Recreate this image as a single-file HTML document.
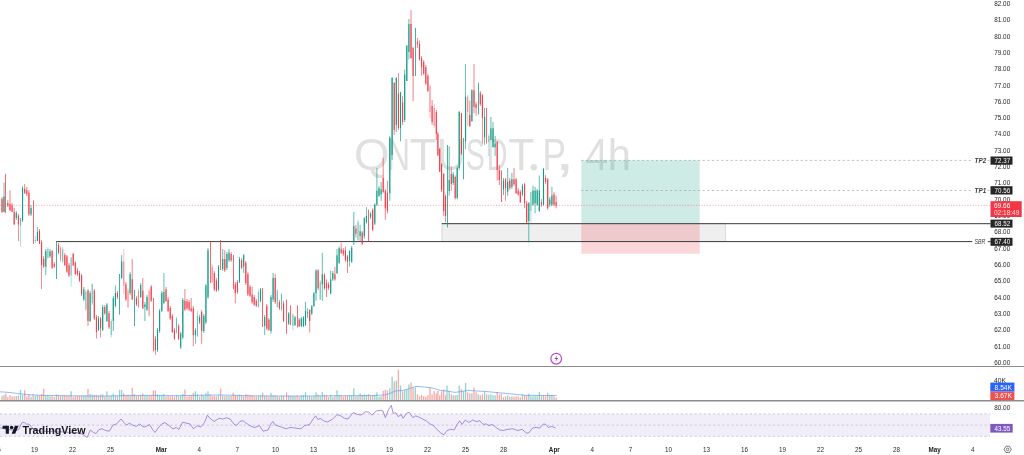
<!DOCTYPE html>
<html><head><meta charset="utf-8"><title>QNTUSDT.P 4h</title>
<style>
html,body{margin:0;padding:0;background:#fff;}
body{width:1024px;height:455px;overflow:hidden;font-family:"Liberation Sans",sans-serif;}
svg{display:block;will-change:transform;transform:translateZ(0);-webkit-font-smoothing:antialiased;}
text{font-family:"Liberation Sans",sans-serif;}
.ax{font-size:6.7px;fill:#262626;}
.tm{font-size:6.3px;fill:#2c2c2c;text-anchor:middle;}
.tb{font-size:6.3px;fill:#222;text-anchor:middle;font-weight:bold;}
.lb{font-size:6.5px;fill:#fff;}
.it{font-size:6.3px;fill:#383838;font-style:italic;font-weight:bold;}
</style></head><body>
<svg width="1024" height="455" viewBox="0 0 1024 455">
<rect width="1024" height="455" fill="#fff"/>
<g id="watermark" fill="#e0e0e0" stroke="#fff" stroke-width="0.5" paint-order="stroke" font-size="43.9">
<text transform="translate(353.94,170.4) scale(1.041,1)">Q</text><text transform="translate(386.89,170.4) scale(0.726,1)">N</text><text transform="translate(409.82,170.4) scale(0.995,1)">T</text><text transform="translate(436.94,170.4) scale(0.903,1)">U</text><text transform="translate(465.71,170.4) scale(0.649,1)">S</text><text transform="translate(486.65,170.4) scale(0.654,1)">D</text><text transform="translate(508.24,170.4) scale(0.971,1)">T</text><text transform="translate(542.42,170.4) scale(0.800,1)">P</text><text transform="translate(585.57,170.4) scale(0.927,1)">4</text><text transform="translate(607.81,170.4) scale(0.950,1)">h</text><text transform="translate(554.80,170.4) scale(1.648,1.25)">,</text><circle cx="533.8" cy="167.3" r="3.2" stroke="none"/></g>
<g id="rsi-band"><rect x="0" y="413.9" width="990" height="22.4" fill="#f1eefa"/><path d="M0 413.9H990M0 425.1H990M0 436.3H990" stroke="#b9b9c4" stroke-width="0.7" stroke-dasharray="2.2 2.4" fill="none"/></g>
<g id="boxes"><rect x="441.9" y="223.6" width="283.6" height="18.1" fill="#808080" fill-opacity="0.13" stroke="#9a9a9a" stroke-opacity="0.5" stroke-width="0.6"/><rect x="581.3" y="160.3" width="118.4" height="63.4" fill="#089981" fill-opacity="0.2"/><rect x="581.3" y="223.7" width="118.4" height="30" fill="#F23645" fill-opacity="0.2"/></g>
<g id="lines" fill="none"><path d="M581.3 160.4H990.5" stroke="#a4a4a4" stroke-width="0.7" stroke-dasharray="2.1 2.567"/><path d="M581.3 190.5H990.5" stroke="#a4a4a4" stroke-width="0.7" stroke-dasharray="2.1 2.567"/><path d="M0 205.3H990" stroke="#f4727c" stroke-width="0.6" stroke-dasharray="1.2 1.54"/><path d="M441.9 223.7H990.5" stroke="#3c3c3c" stroke-width="1"/><path d="M56.2 241.6H990.5" stroke="#3c3c3c" stroke-width="1"/></g>
<g id="candles">
<path d="M2.0 197.0V213.0" stroke="#F23645" stroke-width="0.8" opacity="0.8"/><rect x="1.45" y="199.0" width="1.1" height="13.0" fill="#F23645" opacity="0.95"/>
<path d="M4.0 182.7V212.0" stroke="#089981" stroke-width="0.8" opacity="0.8"/><rect x="3.45" y="196.6" width="1.1" height="15.2" fill="#089981" opacity="0.95"/>
<path d="M5.5 173.9V213.0" stroke="#F23645" stroke-width="0.9" opacity="0.85"/>
<path d="M7.8 200.0V207.0" stroke="#F23645" stroke-width="0.8" opacity="0.8"/><rect x="7.25" y="203.0" width="1.1" height="2.5" fill="#F23645" opacity="0.95"/>
<path d="M10.0 190.3V210.5" stroke="#F23645" stroke-width="0.8" opacity="0.8"/><rect x="9.45" y="204.0" width="1.1" height="6.5" fill="#F23645" opacity="0.95"/>
<path d="M12.1 203.0V212.0" stroke="#F23645" stroke-width="0.8" opacity="0.8"/><rect x="11.55" y="205.5" width="1.1" height="6.3" fill="#F23645" opacity="0.95"/>
<path d="M14.2 208.0V225.0" stroke="#F23645" stroke-width="0.8" opacity="0.8"/><rect x="13.65" y="211.8" width="1.1" height="12.6" fill="#F23645" opacity="0.95"/>
<path d="M16.3 211.0V220.0" stroke="#089981" stroke-width="0.8" opacity="0.8"/><rect x="15.75" y="213.0" width="1.1" height="5.0" fill="#089981" opacity="0.95"/>
<path d="M18.4 214.0V241.0" stroke="#F23645" stroke-width="0.8" opacity="0.8"/><rect x="17.85" y="215.6" width="1.1" height="8.8" fill="#F23645" opacity="0.95"/>
<path d="M20.5 218.0V246.4" stroke="#089981" stroke-width="0.8" opacity="0.4"/><rect x="19.95" y="218.0" width="1.1" height="7.7" fill="#089981" opacity="0.45"/>
<path d="M22.6 186.0V222.0" stroke="#089981" stroke-width="0.8" opacity="0.8"/><rect x="22.05" y="187.8" width="1.1" height="32.8" fill="#089981" opacity="0.95"/>
<path d="M24.7 184.0V194.0" stroke="#F23645" stroke-width="0.8" opacity="0.8"/><rect x="24.15" y="189.0" width="1.1" height="3.8" fill="#F23645" opacity="0.95"/>
<path d="M26.8 187.0V196.0" stroke="#F23645" stroke-width="0.8" opacity="0.8"/><rect x="26.25" y="190.3" width="1.1" height="3.8" fill="#F23645" opacity="0.95"/>
<path d="M28.9 190.0V216.0" stroke="#F23645" stroke-width="0.8" opacity="0.8"/><rect x="28.35" y="192.8" width="1.1" height="21.5" fill="#F23645" opacity="0.95"/>
<path d="M31.0 205.0V216.0" stroke="#089981" stroke-width="0.8" opacity="0.8"/><rect x="30.45" y="208.0" width="1.1" height="6.3" fill="#089981" opacity="0.95"/>
<path d="M33.5 200.4V243.9" stroke="#F23645" stroke-width="0.9" opacity="0.85"/>
<path d="M35.3 236.0V243.0" stroke="#089981" stroke-width="0.8" opacity="0.4"/><rect x="34.75" y="240.0" width="1.1" height="1.0" fill="#089981" opacity="0.45"/>
<path d="M37.4 227.0V241.0" stroke="#089981" stroke-width="0.8" opacity="0.8"/><rect x="36.85" y="232.0" width="1.1" height="9.0" fill="#089981" opacity="0.95"/>
<path d="M39.5 229.0V244.0" stroke="#F23645" stroke-width="0.8" opacity="0.8"/><rect x="38.95" y="231.0" width="1.1" height="12.4" fill="#F23645" opacity="0.95"/>
<path d="M41.6 240.0V289.0" stroke="#F23645" stroke-width="0.8" opacity="0.8"/><rect x="41.05" y="242.0" width="1.1" height="23.0" fill="#F23645" opacity="0.95"/>
<path d="M43.7 256.0V268.0" stroke="#F23645" stroke-width="0.8" opacity="0.8"/><rect x="43.15" y="259.0" width="1.1" height="7.5" fill="#F23645" opacity="0.95"/>
<path d="M45.8 249.0V275.0" stroke="#089981" stroke-width="0.8" opacity="0.8"/><rect x="45.25" y="251.0" width="1.1" height="15.5" fill="#089981" opacity="0.95"/>
<path d="M47.9 247.0V259.0" stroke="#089981" stroke-width="0.8" opacity="0.4"/><rect x="47.35" y="249.0" width="1.1" height="8.7" fill="#089981" opacity="0.45"/>
<path d="M50.0 249.0V258.0" stroke="#089981" stroke-width="0.8" opacity="0.8"/><rect x="49.45" y="251.4" width="1.1" height="5.0" fill="#089981" opacity="0.95"/>
<path d="M52.1 250.0V269.0" stroke="#F23645" stroke-width="0.8" opacity="0.8"/><rect x="51.55" y="251.0" width="1.1" height="16.8" fill="#F23645" opacity="0.95"/>
<path d="M54.3 262.0V268.0" stroke="#F23645" stroke-width="0.8" opacity="0.8"/><rect x="53.75" y="264.0" width="1.1" height="2.5" fill="#F23645" opacity="0.95"/>
<path d="M56.5 242.0V279.0" stroke="#089981" stroke-width="0.9" opacity="0.85"/>
<path d="M58.5 243.0V254.0" stroke="#F23645" stroke-width="0.8" opacity="0.8"/><rect x="57.95" y="245.0" width="1.1" height="7.6" fill="#F23645" opacity="0.95"/>
<path d="M60.6 246.0V262.0" stroke="#F23645" stroke-width="0.8" opacity="0.4"/><rect x="60.05" y="247.6" width="1.1" height="12.4" fill="#F23645" opacity="0.45"/>
<path d="M62.7 247.0V263.0" stroke="#089981" stroke-width="0.8" opacity="0.4"/><rect x="62.15" y="249.0" width="1.1" height="12.5" fill="#089981" opacity="0.45"/>
<path d="M64.8 253.0V266.0" stroke="#F23645" stroke-width="0.8" opacity="0.8"/><rect x="64.25" y="255.0" width="1.1" height="10.0" fill="#F23645" opacity="0.95"/>
<path d="M66.9 255.0V273.0" stroke="#F23645" stroke-width="0.8" opacity="0.8"/><rect x="66.35" y="256.4" width="1.1" height="15.2" fill="#F23645" opacity="0.95"/>
<path d="M69.0 263.0V277.0" stroke="#F23645" stroke-width="0.8" opacity="0.8"/><rect x="68.45" y="265.3" width="1.1" height="10.1" fill="#F23645" opacity="0.95"/>
<path d="M71.1 257.0V286.8" stroke="#089981" stroke-width="0.8" opacity="0.4"/><rect x="70.55" y="257.7" width="1.1" height="17.7" fill="#089981" opacity="0.45"/>
<path d="M73.2 252.6V266.0" stroke="#F23645" stroke-width="0.8" opacity="0.8"/><rect x="72.65" y="254.0" width="1.1" height="11.3" fill="#F23645" opacity="0.95"/>
<path d="M75.3 261.0V275.0" stroke="#F23645" stroke-width="0.8" opacity="0.8"/><rect x="74.75" y="262.8" width="1.1" height="11.2" fill="#F23645" opacity="0.95"/>
<path d="M77.4 268.0V276.0" stroke="#F23645" stroke-width="0.8" opacity="0.8"/><rect x="76.85" y="270.3" width="1.1" height="3.8" fill="#F23645" opacity="0.95"/>
<path d="M79.5 271.0V282.0" stroke="#F23645" stroke-width="0.8" opacity="0.8"/><rect x="78.95" y="272.9" width="1.1" height="7.6" fill="#F23645" opacity="0.95"/>
<path d="M81.6 274.0V296.0" stroke="#F23645" stroke-width="0.8" opacity="0.8"/><rect x="81.05" y="275.4" width="1.1" height="19.0" fill="#F23645" opacity="0.95"/>
<path d="M83.8 287.0V301.0" stroke="#089981" stroke-width="0.8" opacity="0.8"/><rect x="83.25" y="289.3" width="1.1" height="10.1" fill="#089981" opacity="0.95"/>
<path d="M85.9 290.0V311.0" stroke="#089981" stroke-width="0.8" opacity="0.4"/><rect x="85.35" y="291.8" width="1.1" height="17.7" fill="#089981" opacity="0.45"/>
<path d="M88.0 289.0V326.0" stroke="#F23645" stroke-width="0.8" opacity="0.8"/><rect x="87.45" y="290.6" width="1.1" height="30.4" fill="#F23645" opacity="0.95"/>
<path d="M90.1 291.0V322.0" stroke="#089981" stroke-width="0.8" opacity="0.8"/><rect x="89.55" y="293.0" width="1.1" height="28.0" fill="#089981" opacity="0.95"/>
<path d="M92.2 283.0V305.0" stroke="#089981" stroke-width="0.8" opacity="0.4"/><rect x="91.65" y="284.3" width="1.1" height="18.9" fill="#089981" opacity="0.45"/>
<path d="M94.3 289.0V320.0" stroke="#F23645" stroke-width="0.8" opacity="0.8"/><rect x="93.75" y="290.6" width="1.1" height="27.8" fill="#F23645" opacity="0.95"/>
<path d="M96.4 315.0V338.6" stroke="#F23645" stroke-width="0.8" opacity="0.8"/><rect x="95.85" y="317.0" width="1.1" height="15.0" fill="#F23645" opacity="0.95"/>
<path d="M98.5 316.0V331.0" stroke="#089981" stroke-width="0.8" opacity="0.8"/><rect x="97.95" y="318.4" width="1.1" height="11.4" fill="#089981" opacity="0.95"/>
<path d="M100.6 317.0V337.4" stroke="#F23645" stroke-width="0.8" opacity="0.8"/><rect x="100.05" y="318.4" width="1.1" height="10.1" fill="#F23645" opacity="0.95"/>
<path d="M102.7 305.0V331.0" stroke="#089981" stroke-width="0.8" opacity="0.8"/><rect x="102.15" y="307.0" width="1.1" height="22.8" fill="#089981" opacity="0.95"/>
<path d="M104.8 305.0V315.0" stroke="#F23645" stroke-width="0.8" opacity="0.8"/><rect x="104.25" y="307.0" width="1.1" height="6.3" fill="#F23645" opacity="0.95"/>
<path d="M106.9 303.0V322.0" stroke="#089981" stroke-width="0.8" opacity="0.8"/><rect x="106.35" y="304.5" width="1.1" height="16.5" fill="#089981" opacity="0.95"/>
<path d="M109.0 311.0V329.0" stroke="#F23645" stroke-width="0.8" opacity="0.8"/><rect x="108.45" y="313.3" width="1.1" height="14.0" fill="#F23645" opacity="0.95"/>
<path d="M111.2 319.0V337.4" stroke="#089981" stroke-width="0.8" opacity="0.4"/><rect x="110.65" y="321.0" width="1.1" height="14.0" fill="#089981" opacity="0.45"/>
<path d="M113.3 296.0V331.0" stroke="#089981" stroke-width="0.8" opacity="0.8"/><rect x="112.75" y="298.2" width="1.1" height="22.8" fill="#089981" opacity="0.95"/>
<path d="M115.4 285.5V307.0" stroke="#089981" stroke-width="0.8" opacity="0.8"/><rect x="114.85" y="293.0" width="1.1" height="12.8" fill="#089981" opacity="0.95"/>
<path d="M117.5 291.0V299.0" stroke="#F23645" stroke-width="0.8" opacity="0.8"/><rect x="116.95" y="293.0" width="1.1" height="4.0" fill="#F23645" opacity="0.95"/>
<path d="M119.5 274.0V314.6" stroke="#089981" stroke-width="0.9" opacity="0.85"/>
<path d="M121.7 255.0V279.0" stroke="#089981" stroke-width="0.8" opacity="0.8"/><rect x="121.15" y="261.5" width="1.1" height="16.5" fill="#089981" opacity="0.95"/>
<path d="M123.8 248.9V294.4" stroke="#F23645" stroke-width="0.8" opacity="0.4"/><rect x="123.25" y="261.5" width="1.1" height="24.0" fill="#F23645" opacity="0.45"/>
<path d="M125.9 282.0V301.0" stroke="#F23645" stroke-width="0.8" opacity="0.8"/><rect x="125.35" y="284.3" width="1.1" height="15.1" fill="#F23645" opacity="0.95"/>
<path d="M128.0 288.0V308.0" stroke="#F23645" stroke-width="0.8" opacity="0.4"/><rect x="127.45" y="290.6" width="1.1" height="16.4" fill="#F23645" opacity="0.45"/>
<path d="M130.1 272.0V295.0" stroke="#089981" stroke-width="0.8" opacity="0.8"/><rect x="129.55" y="274.1" width="1.1" height="19.0" fill="#089981" opacity="0.95"/>
<path d="M132.2 259.0V300.0" stroke="#F23645" stroke-width="0.8" opacity="0.8"/><rect x="131.65" y="279.2" width="1.1" height="20.2" fill="#F23645" opacity="0.95"/>
<path d="M134.5 290.0V326.0" stroke="#089981" stroke-width="0.9" opacity="0.85"/>
<path d="M136.4 296.0V306.0" stroke="#F23645" stroke-width="0.8" opacity="0.8"/><rect x="135.85" y="298.2" width="1.1" height="6.3" fill="#F23645" opacity="0.95"/>
<path d="M138.5 289.0V308.0" stroke="#F23645" stroke-width="0.8" opacity="0.4"/><rect x="137.95" y="290.6" width="1.1" height="16.4" fill="#F23645" opacity="0.45"/>
<path d="M140.7 283.0V298.0" stroke="#089981" stroke-width="0.8" opacity="0.8"/><rect x="140.15" y="285.0" width="1.1" height="12.0" fill="#089981" opacity="0.95"/>
<path d="M142.8 278.0V309.0" stroke="#F23645" stroke-width="0.8" opacity="0.8"/><rect x="142.25" y="290.6" width="1.1" height="17.7" fill="#F23645" opacity="0.95"/>
<path d="M144.9 302.0V321.0" stroke="#089981" stroke-width="0.8" opacity="0.8"/><rect x="144.35" y="304.5" width="1.1" height="2.5" fill="#089981" opacity="0.95"/>
<path d="M147.0 295.0V311.0" stroke="#089981" stroke-width="0.8" opacity="0.8"/><rect x="146.45" y="297.0" width="1.1" height="12.5" fill="#089981" opacity="0.95"/>
<path d="M149.1 289.0V317.0" stroke="#F23645" stroke-width="0.8" opacity="0.4"/><rect x="148.55" y="291.0" width="1.1" height="24.0" fill="#F23645" opacity="0.45"/>
<path d="M151.2 285.0V302.0" stroke="#F23645" stroke-width="0.8" opacity="0.8"/><rect x="150.65" y="286.8" width="1.1" height="13.9" fill="#F23645" opacity="0.95"/>
<path d="M153.5 298.0V351.3" stroke="#F23645" stroke-width="0.9" opacity="0.85"/>
<path d="M155.4 336.0V355.0" stroke="#F23645" stroke-width="0.8" opacity="0.8"/><rect x="154.85" y="338.6" width="1.1" height="11.4" fill="#F23645" opacity="0.95"/>
<path d="M157.5 328.0V352.0" stroke="#089981" stroke-width="0.8" opacity="0.8"/><rect x="156.95" y="329.8" width="1.1" height="20.2" fill="#089981" opacity="0.95"/>
<path d="M159.6 309.0V333.0" stroke="#089981" stroke-width="0.8" opacity="0.8"/><rect x="159.05" y="310.8" width="1.1" height="20.2" fill="#089981" opacity="0.95"/>
<path d="M161.8 291.0V312.0" stroke="#089981" stroke-width="0.8" opacity="0.8"/><rect x="161.25" y="293.0" width="1.1" height="18.0" fill="#089981" opacity="0.95"/>
<path d="M163.9 273.0V304.0" stroke="#089981" stroke-width="0.8" opacity="0.8"/><rect x="163.35" y="292.0" width="1.1" height="11.0" fill="#089981" opacity="0.95"/>
<path d="M166.0 287.0V302.0" stroke="#F23645" stroke-width="0.8" opacity="0.8"/><rect x="165.45" y="289.4" width="1.1" height="11.6" fill="#F23645" opacity="0.95"/>
<path d="M168.1 297.0V312.0" stroke="#F23645" stroke-width="0.8" opacity="0.8"/><rect x="167.55" y="299.5" width="1.1" height="11.5" fill="#F23645" opacity="0.95"/>
<path d="M170.2 306.0V320.0" stroke="#F23645" stroke-width="0.8" opacity="0.8"/><rect x="169.65" y="308.0" width="1.1" height="10.5" fill="#F23645" opacity="0.95"/>
<path d="M172.3 314.0V333.0" stroke="#F23645" stroke-width="0.8" opacity="0.8"/><rect x="171.75" y="316.0" width="1.1" height="16.0" fill="#F23645" opacity="0.95"/>
<path d="M174.4 328.0V340.0" stroke="#F23645" stroke-width="0.8" opacity="0.8"/><rect x="173.85" y="330.0" width="1.1" height="8.7" fill="#F23645" opacity="0.95"/>
<path d="M176.5 317.0V334.0" stroke="#089981" stroke-width="0.8" opacity="0.4"/><rect x="175.95" y="318.5" width="1.1" height="13.9" fill="#089981" opacity="0.45"/>
<path d="M178.6 324.0V340.0" stroke="#F23645" stroke-width="0.8" opacity="0.8"/><rect x="178.05" y="326.0" width="1.1" height="12.7" fill="#F23645" opacity="0.95"/>
<path d="M180.7 332.0V349.0" stroke="#089981" stroke-width="0.8" opacity="0.8"/><rect x="180.15" y="333.6" width="1.1" height="13.9" fill="#089981" opacity="0.95"/>
<path d="M182.8 298.0V339.0" stroke="#089981" stroke-width="0.8" opacity="0.8"/><rect x="182.25" y="300.0" width="1.1" height="37.4" fill="#089981" opacity="0.95"/>
<path d="M184.9 289.0V311.0" stroke="#F23645" stroke-width="0.8" opacity="0.8"/><rect x="184.35" y="300.8" width="1.1" height="8.8" fill="#F23645" opacity="0.95"/>
<path d="M187.0 299.0V310.0" stroke="#F23645" stroke-width="0.8" opacity="0.8"/><rect x="186.45" y="301.3" width="1.1" height="7.0" fill="#F23645" opacity="0.95"/>
<path d="M189.1 300.0V311.0" stroke="#F23645" stroke-width="0.8" opacity="0.8"/><rect x="188.55" y="302.0" width="1.1" height="7.6" fill="#F23645" opacity="0.95"/>
<path d="M191.2 298.0V312.0" stroke="#F23645" stroke-width="0.8" opacity="0.8"/><rect x="190.65" y="308.3" width="1.1" height="2.6" fill="#F23645" opacity="0.95"/>
<path d="M193.3 306.0V346.3" stroke="#F23645" stroke-width="0.8" opacity="0.8"/><rect x="192.75" y="308.3" width="1.1" height="26.7" fill="#F23645" opacity="0.95"/>
<path d="M195.4 328.0V343.8" stroke="#089981" stroke-width="0.8" opacity="0.8"/><rect x="194.85" y="329.8" width="1.1" height="5.2" fill="#089981" opacity="0.95"/>
<path d="M197.5 311.0V337.0" stroke="#089981" stroke-width="0.8" opacity="0.4"/><rect x="196.95" y="316.0" width="1.1" height="20.0" fill="#089981" opacity="0.45"/>
<path d="M199.6 315.0V324.0" stroke="#089981" stroke-width="0.8" opacity="0.8"/><rect x="199.05" y="317.2" width="1.1" height="5.1" fill="#089981" opacity="0.95"/>
<path d="M201.7 310.0V343.8" stroke="#F23645" stroke-width="0.8" opacity="0.8"/><rect x="201.15" y="312.0" width="1.1" height="19.0" fill="#F23645" opacity="0.95"/>
<path d="M203.8 314.0V333.0" stroke="#089981" stroke-width="0.8" opacity="0.8"/><rect x="203.25" y="316.0" width="1.1" height="15.0" fill="#089981" opacity="0.95"/>
<path d="M205.9 284.0V324.0" stroke="#089981" stroke-width="0.8" opacity="0.8"/><rect x="205.35" y="285.6" width="1.1" height="36.7" fill="#089981" opacity="0.95"/>
<path d="M208.0 248.0V299.0" stroke="#089981" stroke-width="0.8" opacity="0.8"/><rect x="207.45" y="250.2" width="1.1" height="46.8" fill="#089981" opacity="0.95"/>
<path d="M210.5 241.3V283.0" stroke="#F23645" stroke-width="0.9" opacity="0.85"/>
<path d="M212.2 264.0V283.0" stroke="#F23645" stroke-width="0.8" opacity="0.4"/><rect x="211.65" y="266.6" width="1.1" height="15.2" fill="#F23645" opacity="0.45"/>
<path d="M214.3 271.0V291.0" stroke="#F23645" stroke-width="0.8" opacity="0.8"/><rect x="213.75" y="273.0" width="1.1" height="16.4" fill="#F23645" opacity="0.95"/>
<path d="M216.4 278.0V292.0" stroke="#F23645" stroke-width="0.8" opacity="0.8"/><rect x="215.85" y="280.5" width="1.1" height="10.1" fill="#F23645" opacity="0.95"/>
<path d="M218.5 265.0V291.0" stroke="#089981" stroke-width="0.8" opacity="0.8"/><rect x="217.95" y="266.6" width="1.1" height="22.8" fill="#089981" opacity="0.95"/>
<path d="M220.5 240.0V270.0" stroke="#F23645" stroke-width="0.9" opacity="0.85"/>
<path d="M222.7 249.0V271.0" stroke="#089981" stroke-width="0.8" opacity="0.8"/><rect x="222.15" y="259.0" width="1.1" height="10.0" fill="#089981" opacity="0.95"/>
<path d="M224.8 250.2V272.0" stroke="#F23645" stroke-width="0.8" opacity="0.8"/><rect x="224.25" y="259.0" width="1.1" height="11.4" fill="#F23645" opacity="0.95"/>
<path d="M226.9 252.0V270.0" stroke="#089981" stroke-width="0.8" opacity="0.8"/><rect x="226.35" y="254.0" width="1.1" height="14.0" fill="#089981" opacity="0.95"/>
<path d="M229.0 249.0V262.0" stroke="#089981" stroke-width="0.8" opacity="0.8"/><rect x="228.45" y="252.7" width="1.1" height="7.6" fill="#089981" opacity="0.95"/>
<path d="M231.1 252.0V262.0" stroke="#F23645" stroke-width="0.8" opacity="0.8"/><rect x="230.55" y="254.0" width="1.1" height="6.3" fill="#F23645" opacity="0.95"/>
<path d="M233.5 255.0V289.4" stroke="#F23645" stroke-width="0.9" opacity="0.85"/>
<path d="M235.3 282.0V303.3" stroke="#F23645" stroke-width="0.8" opacity="0.8"/><rect x="234.75" y="284.3" width="1.1" height="8.9" fill="#F23645" opacity="0.95"/>
<path d="M237.4 280.0V294.0" stroke="#F23645" stroke-width="0.8" opacity="0.8"/><rect x="236.85" y="281.8" width="1.1" height="10.2" fill="#F23645" opacity="0.95"/>
<path d="M239.5 257.0V283.0" stroke="#089981" stroke-width="0.8" opacity="0.8"/><rect x="238.95" y="259.0" width="1.1" height="22.8" fill="#089981" opacity="0.95"/>
<path d="M241.6 258.0V269.0" stroke="#F23645" stroke-width="0.8" opacity="0.8"/><rect x="241.05" y="260.3" width="1.1" height="7.6" fill="#F23645" opacity="0.95"/>
<path d="M243.7 254.0V273.0" stroke="#089981" stroke-width="0.8" opacity="0.8"/><rect x="243.15" y="255.2" width="1.1" height="11.4" fill="#089981" opacity="0.95"/>
<path d="M245.8 261.0V285.0" stroke="#F23645" stroke-width="0.8" opacity="0.8"/><rect x="245.25" y="262.8" width="1.1" height="20.2" fill="#F23645" opacity="0.95"/>
<path d="M247.9 272.0V296.0" stroke="#F23645" stroke-width="0.8" opacity="0.8"/><rect x="247.35" y="274.2" width="1.1" height="20.2" fill="#F23645" opacity="0.95"/>
<path d="M250.0 285.0V297.0" stroke="#F23645" stroke-width="0.8" opacity="0.8"/><rect x="249.45" y="286.8" width="1.1" height="8.9" fill="#F23645" opacity="0.95"/>
<path d="M252.1 286.8V304.0" stroke="#F23645" stroke-width="0.8" opacity="0.8"/><rect x="251.55" y="294.4" width="1.1" height="7.6" fill="#F23645" opacity="0.95"/>
<path d="M254.2 295.0V306.0" stroke="#F23645" stroke-width="0.8" opacity="0.8"/><rect x="253.65" y="297.0" width="1.1" height="7.6" fill="#F23645" opacity="0.95"/>
<path d="M256.3 299.0V307.0" stroke="#F23645" stroke-width="0.8" opacity="0.8"/><rect x="255.75" y="300.8" width="1.1" height="5.0" fill="#F23645" opacity="0.95"/>
<path d="M258.4 289.4V308.0" stroke="#089981" stroke-width="0.8" opacity="0.4"/><rect x="257.85" y="292.0" width="1.1" height="15.0" fill="#089981" opacity="0.45"/>
<path d="M260.5 288.0V302.0" stroke="#089981" stroke-width="0.8" opacity="0.8"/><rect x="259.95" y="289.4" width="1.1" height="11.4" fill="#089981" opacity="0.95"/>
<path d="M262.5 288.0V327.0" stroke="#F23645" stroke-width="0.9" opacity="0.85"/>
<path d="M264.7 315.0V335.0" stroke="#089981" stroke-width="0.8" opacity="0.8"/><rect x="264.15" y="317.2" width="1.1" height="8.8" fill="#089981" opacity="0.95"/>
<path d="M266.8 304.0V330.0" stroke="#F23645" stroke-width="0.8" opacity="0.8"/><rect x="266.25" y="305.8" width="1.1" height="22.8" fill="#F23645" opacity="0.95"/>
<path d="M268.9 318.0V331.0" stroke="#F23645" stroke-width="0.8" opacity="0.8"/><rect x="268.35" y="319.7" width="1.1" height="10.1" fill="#F23645" opacity="0.95"/>
<path d="M271.0 295.0V333.6" stroke="#089981" stroke-width="0.8" opacity="0.8"/><rect x="270.45" y="297.0" width="1.1" height="34.0" fill="#089981" opacity="0.95"/>
<path d="M273.1 273.0V302.0" stroke="#089981" stroke-width="0.8" opacity="0.8"/><rect x="272.55" y="278.0" width="1.1" height="21.5" fill="#089981" opacity="0.95"/>
<path d="M275.2 274.2V304.0" stroke="#F23645" stroke-width="0.8" opacity="0.8"/><rect x="274.65" y="278.0" width="1.1" height="24.0" fill="#F23645" opacity="0.95"/>
<path d="M277.3 289.0V308.0" stroke="#089981" stroke-width="0.8" opacity="0.4"/><rect x="276.75" y="290.6" width="1.1" height="16.4" fill="#089981" opacity="0.45"/>
<path d="M279.4 300.0V310.0" stroke="#F23645" stroke-width="0.8" opacity="0.8"/><rect x="278.85" y="302.0" width="1.1" height="6.3" fill="#F23645" opacity="0.95"/>
<path d="M281.5 293.0V311.0" stroke="#089981" stroke-width="0.8" opacity="0.4"/><rect x="280.95" y="294.4" width="1.1" height="15.2" fill="#089981" opacity="0.45"/>
<path d="M283.6 301.0V322.0" stroke="#F23645" stroke-width="0.8" opacity="0.8"/><rect x="283.05" y="303.3" width="1.1" height="17.7" fill="#F23645" opacity="0.95"/>
<path d="M286.5 299.6V333.8" stroke="#F23645" stroke-width="0.9" opacity="0.85"/>
<path d="M288.7 312.0V325.0" stroke="#089981" stroke-width="0.8" opacity="0.8"/><rect x="288.15" y="313.5" width="1.1" height="10.1" fill="#089981" opacity="0.95"/>
<path d="M290.5 305.4V325.0" stroke="#F23645" stroke-width="0.9" opacity="0.85"/>
<path d="M292.9 313.0V330.0" stroke="#089981" stroke-width="0.8" opacity="0.4"/><rect x="292.35" y="315.0" width="1.1" height="11.0" fill="#089981" opacity="0.45"/>
<path d="M295.0 316.0V326.0" stroke="#089981" stroke-width="0.8" opacity="0.8"/><rect x="294.45" y="317.3" width="1.1" height="7.7" fill="#089981" opacity="0.95"/>
<path d="M297.5 305.4V327.4" stroke="#F23645" stroke-width="0.9" opacity="0.85"/>
<path d="M299.2 318.0V327.0" stroke="#F23645" stroke-width="0.8" opacity="0.8"/><rect x="298.65" y="319.8" width="1.1" height="6.4" fill="#F23645" opacity="0.95"/>
<path d="M301.3 317.0V327.0" stroke="#089981" stroke-width="0.8" opacity="0.8"/><rect x="300.75" y="318.6" width="1.1" height="7.6" fill="#089981" opacity="0.95"/>
<path d="M303.4 316.0V327.0" stroke="#089981" stroke-width="0.8" opacity="0.8"/><rect x="302.85" y="317.3" width="1.1" height="8.9" fill="#089981" opacity="0.95"/>
<path d="M305.5 302.0V326.0" stroke="#089981" stroke-width="0.8" opacity="0.8"/><rect x="304.95" y="311.0" width="1.1" height="14.0" fill="#089981" opacity="0.95"/>
<path d="M307.6 308.0V318.0" stroke="#089981" stroke-width="0.8" opacity="0.8"/><rect x="307.05" y="312.3" width="1.1" height="1.2" fill="#089981" opacity="0.95"/>
<path d="M309.7 309.7V332.5" stroke="#F23645" stroke-width="0.8" opacity="0.8"/><rect x="309.15" y="309.7" width="1.1" height="11.3" fill="#F23645" opacity="0.95"/>
<path d="M311.8 305.0V315.0" stroke="#089981" stroke-width="0.8" opacity="0.8"/><rect x="311.25" y="306.4" width="1.1" height="7.1" fill="#089981" opacity="0.95"/>
<path d="M313.9 292.0V307.0" stroke="#089981" stroke-width="0.8" opacity="0.8"/><rect x="313.35" y="293.3" width="1.1" height="12.7" fill="#089981" opacity="0.95"/>
<path d="M316.0 269.3V300.9" stroke="#089981" stroke-width="0.8" opacity="0.8"/><rect x="315.45" y="270.5" width="1.1" height="22.8" fill="#089981" opacity="0.95"/>
<path d="M318.1 269.0V290.0" stroke="#F23645" stroke-width="0.8" opacity="0.8"/><rect x="317.55" y="270.5" width="1.1" height="17.7" fill="#F23645" opacity="0.95"/>
<path d="M320.2 280.0V300.0" stroke="#089981" stroke-width="0.8" opacity="0.4"/><rect x="319.65" y="282.0" width="1.1" height="17.6" fill="#089981" opacity="0.45"/>
<path d="M322.3 252.8V300.9" stroke="#089981" stroke-width="0.8" opacity="0.8"/><rect x="321.75" y="274.3" width="1.1" height="10.1" fill="#089981" opacity="0.95"/>
<path d="M324.4 273.0V290.0" stroke="#F23645" stroke-width="0.8" opacity="0.8"/><rect x="323.85" y="275.0" width="1.1" height="13.2" fill="#F23645" opacity="0.95"/>
<path d="M326.5 279.4V297.0" stroke="#F23645" stroke-width="0.8" opacity="0.8"/><rect x="325.95" y="283.0" width="1.1" height="5.2" fill="#F23645" opacity="0.95"/>
<path d="M328.6 282.0V290.0" stroke="#F23645" stroke-width="0.8" opacity="0.8"/><rect x="328.05" y="284.4" width="1.1" height="3.8" fill="#F23645" opacity="0.95"/>
<path d="M330.7 270.5V294.5" stroke="#089981" stroke-width="0.8" opacity="0.8"/><rect x="330.15" y="279.4" width="1.1" height="13.9" fill="#089981" opacity="0.95"/>
<path d="M332.8 271.0V281.0" stroke="#089981" stroke-width="0.8" opacity="0.8"/><rect x="332.25" y="273.0" width="1.1" height="6.4" fill="#089981" opacity="0.95"/>
<path d="M334.9 266.7V280.6" stroke="#F23645" stroke-width="0.8" opacity="0.8"/><rect x="334.35" y="274.3" width="1.1" height="5.1" fill="#F23645" opacity="0.95"/>
<path d="M337.0 249.0V274.0" stroke="#089981" stroke-width="0.8" opacity="0.8"/><rect x="336.45" y="255.3" width="1.1" height="17.7" fill="#089981" opacity="0.95"/>
<path d="M339.1 246.5V264.0" stroke="#089981" stroke-width="0.8" opacity="0.8"/><rect x="338.55" y="248.0" width="1.1" height="15.0" fill="#089981" opacity="0.95"/>
<path d="M341.2 242.7V254.0" stroke="#F23645" stroke-width="0.8" opacity="0.8"/><rect x="340.65" y="249.0" width="1.1" height="3.8" fill="#F23645" opacity="0.95"/>
<path d="M343.3 248.0V256.0" stroke="#F23645" stroke-width="0.8" opacity="0.8"/><rect x="342.75" y="250.3" width="1.1" height="3.7" fill="#F23645" opacity="0.95"/>
<path d="M345.4 246.5V261.7" stroke="#F23645" stroke-width="0.8" opacity="0.8"/><rect x="344.85" y="250.3" width="1.1" height="10.1" fill="#F23645" opacity="0.95"/>
<path d="M347.5 255.0V273.0" stroke="#F23645" stroke-width="0.8" opacity="0.8"/><rect x="346.95" y="256.6" width="1.1" height="5.1" fill="#F23645" opacity="0.95"/>
<path d="M349.6 250.3V266.7" stroke="#089981" stroke-width="0.8" opacity="0.8"/><rect x="349.05" y="251.0" width="1.1" height="10.0" fill="#089981" opacity="0.95"/>
<path d="M351.7 246.0V263.0" stroke="#089981" stroke-width="0.8" opacity="0.8"/><rect x="351.15" y="247.8" width="1.1" height="13.9" fill="#089981" opacity="0.95"/>
<path d="M353.8 212.0V245.0" stroke="#089981" stroke-width="0.8" opacity="0.8"/><rect x="353.25" y="226.0" width="1.1" height="15.3" fill="#089981" opacity="0.95"/>
<path d="M355.9 224.8V237.5" stroke="#F23645" stroke-width="0.8" opacity="0.8"/><rect x="355.35" y="228.6" width="1.1" height="5.1" fill="#F23645" opacity="0.95"/>
<path d="M358.0 219.8V241.3" stroke="#089981" stroke-width="0.8" opacity="0.4"/><rect x="357.45" y="222.0" width="1.1" height="18.0" fill="#089981" opacity="0.45"/>
<path d="M360.1 224.8V241.3" stroke="#089981" stroke-width="0.8" opacity="0.8"/><rect x="359.55" y="231.2" width="1.1" height="5.0" fill="#089981" opacity="0.95"/>
<path d="M362.2 231.0V245.0" stroke="#F23645" stroke-width="0.8" opacity="0.8"/><rect x="361.65" y="232.4" width="1.1" height="11.4" fill="#F23645" opacity="0.95"/>
<path d="M364.3 217.0V238.8" stroke="#089981" stroke-width="0.8" opacity="0.8"/><rect x="363.75" y="218.5" width="1.1" height="17.7" fill="#089981" opacity="0.95"/>
<path d="M366.4 207.0V223.6" stroke="#089981" stroke-width="0.8" opacity="0.8"/><rect x="365.85" y="216.0" width="1.1" height="6.3" fill="#089981" opacity="0.95"/>
<path d="M368.5 209.7V241.3" stroke="#F23645" stroke-width="0.9" opacity="0.85"/>
<path d="M370.6 212.0V219.0" stroke="#089981" stroke-width="0.8" opacity="0.8"/><rect x="370.05" y="213.5" width="1.1" height="3.8" fill="#089981" opacity="0.95"/>
<path d="M372.7 208.4V231.2" stroke="#F23645" stroke-width="0.8" opacity="0.8"/><rect x="372.15" y="209.7" width="1.1" height="20.2" fill="#F23645" opacity="0.95"/>
<path d="M374.8 203.3V225.0" stroke="#089981" stroke-width="0.8" opacity="0.8"/><rect x="374.25" y="204.6" width="1.1" height="19.0" fill="#089981" opacity="0.95"/>
<path d="M376.9 168.0V206.0" stroke="#089981" stroke-width="0.8" opacity="0.8"/><rect x="376.35" y="190.7" width="1.1" height="13.9" fill="#089981" opacity="0.95"/>
<path d="M379.0 186.0V197.0" stroke="#089981" stroke-width="0.8" opacity="0.8"/><rect x="378.45" y="188.2" width="1.1" height="7.6" fill="#089981" opacity="0.95"/>
<path d="M381.1 181.8V200.8" stroke="#089981" stroke-width="0.8" opacity="0.8"/><rect x="380.55" y="189.4" width="1.1" height="5.1" fill="#089981" opacity="0.95"/>
<path d="M383.2 157.8V193.2" stroke="#F23645" stroke-width="0.8" opacity="0.8"/><rect x="382.65" y="178.0" width="1.1" height="14.0" fill="#F23645" opacity="0.95"/>
<path d="M385.3 189.4V219.8" stroke="#F23645" stroke-width="0.8" opacity="0.8"/><rect x="384.75" y="190.7" width="1.1" height="17.7" fill="#F23645" opacity="0.95"/>
<path d="M387.4 180.6V213.5" stroke="#F23645" stroke-width="0.8" opacity="0.8"/><rect x="386.85" y="193.2" width="1.1" height="17.8" fill="#F23645" opacity="0.95"/>
<path d="M389.8 136.3V200.8" stroke="#089981" stroke-width="0.8" opacity="0.8"/><rect x="389.25" y="137.6" width="1.1" height="55.6" fill="#089981" opacity="0.95"/>
<path d="M392.1 77.0V160.0" stroke="#089981" stroke-width="0.8" opacity="0.8"/><rect x="391.55" y="78.0" width="1.1" height="77.0" fill="#089981" opacity="0.95"/>
<path d="M394.2 82.0V135.0" stroke="#F23645" stroke-width="0.8" opacity="0.8"/><rect x="393.65" y="83.0" width="1.1" height="47.0" fill="#F23645" opacity="0.95"/>
<path d="M396.3 77.0V132.0" stroke="#089981" stroke-width="0.8" opacity="0.8"/><rect x="395.75" y="78.0" width="1.1" height="47.0" fill="#089981" opacity="0.95"/>
<path d="M398.4 73.0V130.0" stroke="#F23645" stroke-width="0.8" opacity="0.8"/><rect x="397.85" y="93.6" width="1.1" height="34.4" fill="#F23645" opacity="0.95"/>
<path d="M400.5 92.3V141.4" stroke="#089981" stroke-width="0.8" opacity="0.8"/><rect x="399.95" y="92.3" width="1.1" height="35.7" fill="#089981" opacity="0.95"/>
<path d="M402.6 96.0V125.0" stroke="#F23645" stroke-width="0.8" opacity="0.8"/><rect x="402.05" y="102.4" width="1.1" height="19.6" fill="#F23645" opacity="0.95"/>
<path d="M404.7 69.5V122.0" stroke="#089981" stroke-width="0.8" opacity="0.8"/><rect x="404.15" y="74.6" width="1.1" height="45.4" fill="#089981" opacity="0.95"/>
<path d="M406.8 45.5V81.0" stroke="#089981" stroke-width="0.8" opacity="0.8"/><rect x="406.25" y="45.5" width="1.1" height="35.5" fill="#089981" opacity="0.95"/>
<path d="M408.9 19.0V59.4" stroke="#089981" stroke-width="0.8" opacity="0.8"/><rect x="408.35" y="24.0" width="1.1" height="28.0" fill="#089981" opacity="0.95"/>
<path d="M411.0 10.1V58.2" stroke="#F23645" stroke-width="0.8" opacity="0.8"/><rect x="410.45" y="24.0" width="1.1" height="34.2" fill="#F23645" opacity="0.95"/>
<path d="M413.1 46.8V101.2" stroke="#F23645" stroke-width="0.8" opacity="0.8"/><rect x="412.55" y="48.0" width="1.1" height="27.9" fill="#F23645" opacity="0.95"/>
<path d="M415.5 27.8V76.0" stroke="#089981" stroke-width="0.9" opacity="0.85"/>
<path d="M417.4 38.0V48.0" stroke="#F23645" stroke-width="0.8" opacity="0.8"/><rect x="416.85" y="41.7" width="1.1" height="2.6" fill="#F23645" opacity="0.95"/>
<path d="M419.5 40.5V60.7" stroke="#F23645" stroke-width="0.8" opacity="0.8"/><rect x="418.95" y="44.0" width="1.1" height="15.0" fill="#F23645" opacity="0.95"/>
<path d="M421.6 56.0V75.9" stroke="#F23645" stroke-width="0.8" opacity="0.8"/><rect x="421.05" y="58.2" width="1.1" height="8.8" fill="#F23645" opacity="0.95"/>
<path d="M423.7 60.0V75.0" stroke="#F23645" stroke-width="0.8" opacity="0.8"/><rect x="423.15" y="62.0" width="1.1" height="11.3" fill="#F23645" opacity="0.95"/>
<path d="M425.8 65.0V85.0" stroke="#F23645" stroke-width="0.8" opacity="0.8"/><rect x="425.25" y="67.0" width="1.1" height="16.5" fill="#F23645" opacity="0.95"/>
<path d="M427.9 74.0V92.0" stroke="#F23645" stroke-width="0.8" opacity="0.8"/><rect x="427.35" y="75.9" width="1.1" height="15.1" fill="#F23645" opacity="0.95"/>
<path d="M430.0 84.7V118.0" stroke="#F23645" stroke-width="0.8" opacity="0.4"/><rect x="429.45" y="86.0" width="1.1" height="26.0" fill="#F23645" opacity="0.45"/>
<path d="M432.1 100.0V125.0" stroke="#F23645" stroke-width="0.8" opacity="0.8"/><rect x="431.55" y="106.0" width="1.1" height="16.0" fill="#F23645" opacity="0.95"/>
<path d="M434.2 104.0V128.0" stroke="#F23645" stroke-width="0.8" opacity="0.4"/><rect x="433.65" y="108.0" width="1.1" height="18.0" fill="#F23645" opacity="0.45"/>
<path d="M436.3 110.0V140.0" stroke="#F23645" stroke-width="0.8" opacity="0.8"/><rect x="435.75" y="112.0" width="1.1" height="22.0" fill="#F23645" opacity="0.95"/>
<path d="M437.9 132.0V156.0" stroke="#F23645" stroke-width="0.8" opacity="0.8"/><rect x="437.35" y="133.8" width="1.1" height="21.5" fill="#F23645" opacity="0.95"/>
<path d="M439.7 147.7V172.0" stroke="#F23645" stroke-width="0.8" opacity="0.8"/><rect x="439.15" y="149.0" width="1.1" height="22.7" fill="#F23645" opacity="0.95"/>
<path d="M441.6 163.0V192.0" stroke="#F23645" stroke-width="0.8" opacity="0.8"/><rect x="441.05" y="164.0" width="1.1" height="26.0" fill="#F23645" opacity="0.95"/>
<path d="M443.7 173.0V216.0" stroke="#F23645" stroke-width="0.8" opacity="0.8"/><rect x="443.15" y="174.0" width="1.1" height="37.0" fill="#F23645" opacity="0.95"/>
<path d="M445.6 194.5V222.3" stroke="#F23645" stroke-width="0.8" opacity="0.8"/><rect x="445.05" y="196.0" width="1.1" height="20.0" fill="#F23645" opacity="0.95"/>
<path d="M447.5 145.0V227.4" stroke="#089981" stroke-width="0.9" opacity="0.85"/>
<path d="M449.2 146.4V195.8" stroke="#089981" stroke-width="0.8" opacity="0.8"/><rect x="448.65" y="180.0" width="1.1" height="11.0" fill="#089981" opacity="0.95"/>
<path d="M451.3 166.7V190.7" stroke="#F23645" stroke-width="0.8" opacity="0.8"/><rect x="450.75" y="174.0" width="1.1" height="10.0" fill="#F23645" opacity="0.95"/>
<path d="M453.2 172.0V185.0" stroke="#089981" stroke-width="0.8" opacity="0.8"/><rect x="452.65" y="174.3" width="1.1" height="8.7" fill="#089981" opacity="0.95"/>
<path d="M455.2 175.5V199.5" stroke="#F23645" stroke-width="0.8" opacity="0.8"/><rect x="454.65" y="177.0" width="1.1" height="21.0" fill="#F23645" opacity="0.95"/>
<path d="M457.2 166.0V199.5" stroke="#089981" stroke-width="0.8" opacity="0.8"/><rect x="456.65" y="168.0" width="1.1" height="30.0" fill="#089981" opacity="0.95"/>
<path d="M459.2 111.0V170.0" stroke="#089981" stroke-width="0.8" opacity="0.8"/><rect x="458.65" y="112.0" width="1.1" height="56.0" fill="#089981" opacity="0.95"/>
<path d="M461.4 113.2V155.0" stroke="#F23645" stroke-width="0.8" opacity="0.8"/><rect x="460.85" y="113.2" width="1.1" height="40.4" fill="#F23645" opacity="0.95"/>
<path d="M463.5 138.0V179.3" stroke="#089981" stroke-width="0.9" opacity="0.85"/>
<path d="M465.6 63.9V149.0" stroke="#089981" stroke-width="0.8" opacity="0.8"/><rect x="465.05" y="96.7" width="1.1" height="44.3" fill="#089981" opacity="0.95"/>
<path d="M467.7 95.0V126.0" stroke="#F23645" stroke-width="0.8" opacity="0.4"/><rect x="467.15" y="96.7" width="1.1" height="15.3" fill="#F23645" opacity="0.45"/>
<path d="M469.8 100.5V127.0" stroke="#F23645" stroke-width="0.8" opacity="0.8"/><rect x="469.25" y="115.0" width="1.1" height="10.8" fill="#F23645" opacity="0.95"/>
<path d="M471.9 89.0V122.0" stroke="#089981" stroke-width="0.8" opacity="0.8"/><rect x="471.35" y="90.4" width="1.1" height="30.6" fill="#089981" opacity="0.95"/>
<path d="M474.0 63.9V113.2" stroke="#F23645" stroke-width="0.8" opacity="0.8"/><rect x="473.45" y="90.4" width="1.1" height="16.4" fill="#F23645" opacity="0.95"/>
<path d="M476.1 102.0V115.7" stroke="#F23645" stroke-width="0.8" opacity="0.8"/><rect x="475.55" y="104.3" width="1.1" height="3.7" fill="#F23645" opacity="0.95"/>
<path d="M478.5 82.8V114.4" stroke="#089981" stroke-width="0.9" opacity="0.85"/>
<path d="M480.3 91.0V106.0" stroke="#F23645" stroke-width="0.8" opacity="0.8"/><rect x="479.75" y="93.0" width="1.1" height="11.3" fill="#F23645" opacity="0.95"/>
<path d="M482.4 94.2V143.5" stroke="#F23645" stroke-width="0.8" opacity="0.8"/><rect x="481.85" y="95.0" width="1.1" height="23.0" fill="#F23645" opacity="0.95"/>
<path d="M484.6 108.0V144.8" stroke="#089981" stroke-width="0.8" opacity="0.8"/><rect x="484.05" y="117.0" width="1.1" height="20.2" fill="#089981" opacity="0.95"/>
<path d="M486.5 108.0V143.5" stroke="#F23645" stroke-width="0.9" opacity="0.85"/>
<path d="M488.8 134.0V156.0" stroke="#089981" stroke-width="0.8" opacity="0.4"/><rect x="488.25" y="136.0" width="1.1" height="6.0" fill="#089981" opacity="0.45"/>
<path d="M490.9 117.0V140.0" stroke="#089981" stroke-width="0.8" opacity="0.8"/><rect x="490.35" y="128.3" width="1.1" height="11.4" fill="#089981" opacity="0.95"/>
<path d="M493.0 122.0V147.3" stroke="#089981" stroke-width="0.8" opacity="0.8"/><rect x="492.45" y="128.3" width="1.1" height="19.0" fill="#089981" opacity="0.95"/>
<path d="M495.1 136.0V156.0" stroke="#089981" stroke-width="0.8" opacity="0.8"/><rect x="494.55" y="143.5" width="1.1" height="3.8" fill="#089981" opacity="0.95"/>
<path d="M497.2 141.0V180.5" stroke="#F23645" stroke-width="0.8" opacity="0.8"/><rect x="496.65" y="142.0" width="1.1" height="28.0" fill="#F23645" opacity="0.95"/>
<path d="M499.3 165.0V185.0" stroke="#F23645" stroke-width="0.8" opacity="0.8"/><rect x="498.75" y="170.0" width="1.1" height="10.0" fill="#F23645" opacity="0.95"/>
<path d="M501.5 170.4V202.0" stroke="#F23645" stroke-width="0.9" opacity="0.85"/>
<path d="M503.5 178.0V195.0" stroke="#089981" stroke-width="0.8" opacity="0.8"/><rect x="502.95" y="180.5" width="1.1" height="8.9" fill="#089981" opacity="0.95"/>
<path d="M505.6 178.0V200.8" stroke="#F23645" stroke-width="0.8" opacity="0.8"/><rect x="505.05" y="179.3" width="1.1" height="8.7" fill="#F23645" opacity="0.95"/>
<path d="M507.7 167.9V195.7" stroke="#089981" stroke-width="0.8" opacity="0.8"/><rect x="507.15" y="181.8" width="1.1" height="10.1" fill="#089981" opacity="0.95"/>
<path d="M509.8 178.0V190.0" stroke="#F23645" stroke-width="0.8" opacity="0.8"/><rect x="509.25" y="180.5" width="1.1" height="7.5" fill="#F23645" opacity="0.95"/>
<path d="M511.9 173.0V189.0" stroke="#089981" stroke-width="0.8" opacity="0.8"/><rect x="511.35" y="179.3" width="1.1" height="7.5" fill="#089981" opacity="0.95"/>
<path d="M514.0 167.9V186.0" stroke="#F23645" stroke-width="0.8" opacity="0.8"/><rect x="513.45" y="179.3" width="1.1" height="5.0" fill="#F23645" opacity="0.95"/>
<path d="M516.1 178.0V194.0" stroke="#F23645" stroke-width="0.8" opacity="0.8"/><rect x="515.55" y="179.3" width="1.1" height="13.9" fill="#F23645" opacity="0.95"/>
<path d="M518.2 188.0V196.0" stroke="#F23645" stroke-width="0.8" opacity="0.8"/><rect x="517.65" y="190.6" width="1.1" height="3.8" fill="#F23645" opacity="0.95"/>
<path d="M520.3 190.0V203.0" stroke="#F23645" stroke-width="0.8" opacity="0.8"/><rect x="519.75" y="192.0" width="1.1" height="10.0" fill="#F23645" opacity="0.95"/>
<path d="M522.4 184.0V196.0" stroke="#089981" stroke-width="0.8" opacity="0.8"/><rect x="521.85" y="185.6" width="1.1" height="8.8" fill="#089981" opacity="0.95"/>
<path d="M524.6 183.0V208.3" stroke="#F23645" stroke-width="0.8" opacity="0.8"/><rect x="524.05" y="184.3" width="1.1" height="18.7" fill="#F23645" opacity="0.95"/>
<path d="M526.7 201.0V223.0" stroke="#F23645" stroke-width="0.8" opacity="0.8"/><rect x="526.15" y="203.3" width="1.1" height="19.0" fill="#F23645" opacity="0.95"/>
<path d="M528.8 202.0V242.5" stroke="#089981" stroke-width="0.8" opacity="0.8"/><rect x="528.25" y="203.3" width="1.1" height="17.7" fill="#089981" opacity="0.95"/>
<path d="M530.9 191.9V222.3" stroke="#089981" stroke-width="0.8" opacity="0.4"/><rect x="530.35" y="191.9" width="1.1" height="19.1" fill="#089981" opacity="0.45"/>
<path d="M533.0 185.6V205.8" stroke="#089981" stroke-width="0.8" opacity="0.8"/><rect x="532.45" y="190.6" width="1.1" height="14.0" fill="#089981" opacity="0.95"/>
<path d="M535.1 186.8V213.4" stroke="#089981" stroke-width="0.8" opacity="0.8"/><rect x="534.55" y="190.6" width="1.1" height="12.7" fill="#089981" opacity="0.95"/>
<path d="M537.2 189.0V206.0" stroke="#089981" stroke-width="0.8" opacity="0.8"/><rect x="536.65" y="190.6" width="1.1" height="14.0" fill="#089981" opacity="0.95"/>
<path d="M539.3 175.5V212.0" stroke="#089981" stroke-width="0.8" opacity="0.8"/><rect x="538.75" y="190.6" width="1.1" height="20.3" fill="#089981" opacity="0.95"/>
<path d="M541.4 199.0V207.0" stroke="#F23645" stroke-width="0.8" opacity="0.8"/><rect x="540.85" y="202.0" width="1.1" height="2.6" fill="#F23645" opacity="0.95"/>
<path d="M543.5 167.9V205.8" stroke="#089981" stroke-width="0.8" opacity="0.8"/><rect x="542.95" y="169.0" width="1.1" height="35.6" fill="#089981" opacity="0.95"/>
<path d="M545.6 175.0V184.0" stroke="#F23645" stroke-width="0.8" opacity="0.8"/><rect x="545.05" y="178.0" width="1.1" height="3.8" fill="#F23645" opacity="0.95"/>
<path d="M547.7 178.0V209.6" stroke="#F23645" stroke-width="0.8" opacity="0.8"/><rect x="547.15" y="179.3" width="1.1" height="29.0" fill="#F23645" opacity="0.95"/>
<path d="M549.8 197.0V207.0" stroke="#089981" stroke-width="0.8" opacity="0.8"/><rect x="549.25" y="199.5" width="1.1" height="5.1" fill="#089981" opacity="0.95"/>
<path d="M551.9 186.8V206.0" stroke="#089981" stroke-width="0.8" opacity="0.8"/><rect x="551.35" y="195.7" width="1.1" height="8.9" fill="#089981" opacity="0.95"/>
<path d="M554.0 192.0V206.0" stroke="#F23645" stroke-width="0.8" opacity="0.8"/><rect x="553.45" y="194.4" width="1.1" height="10.2" fill="#F23645" opacity="0.95"/>
<path d="M556.1 195.7V208.3" stroke="#F23645" stroke-width="0.8" opacity="0.8"/><rect x="555.55" y="202.0" width="1.1" height="3.8" fill="#F23645" opacity="0.95"/>
</g>
<g id="volume">
<rect x="1.35" y="395.9" width="1.3" height="4.4" fill="#f7a9a7"/><rect x="3.35" y="395.2" width="1.3" height="5.1" fill="#92d2cc"/><rect x="5.15" y="393.6" width="1.3" height="6.7" fill="#f7a9a7"/><rect x="7.15" y="397.0" width="1.3" height="3.3" fill="#f7a9a7"/><rect x="9.35" y="395.2" width="1.3" height="5.1" fill="#f7a9a7"/><rect x="11.45" y="396.4" width="1.3" height="3.9" fill="#f7a9a7"/><rect x="13.55" y="396.3" width="1.3" height="4.0" fill="#f7a9a7"/><rect x="15.65" y="396.1" width="1.3" height="4.2" fill="#92d2cc"/><rect x="17.75" y="395.6" width="1.3" height="4.7" fill="#f7a9a7"/><rect x="19.85" y="389.8" width="1.3" height="10.5" fill="#92d2cc"/><rect x="21.95" y="394.9" width="1.3" height="5.4" fill="#92d2cc"/><rect x="24.05" y="390.3" width="1.3" height="10.0" fill="#f7a9a7"/><rect x="26.15" y="396.3" width="1.3" height="4.0" fill="#f7a9a7"/><rect x="28.25" y="394.3" width="1.3" height="6.0" fill="#f7a9a7"/><rect x="30.35" y="396.7" width="1.3" height="3.6" fill="#92d2cc"/><rect x="32.45" y="394.3" width="1.3" height="6.0" fill="#f7a9a7"/><rect x="34.65" y="396.0" width="1.3" height="4.3" fill="#92d2cc"/><rect x="36.75" y="394.9" width="1.3" height="5.4" fill="#92d2cc"/><rect x="38.85" y="395.5" width="1.3" height="4.8" fill="#f7a9a7"/><rect x="40.95" y="394.0" width="1.3" height="6.3" fill="#f7a9a7"/><rect x="43.05" y="388.8" width="1.3" height="11.5" fill="#f7a9a7"/><rect x="45.15" y="395.7" width="1.3" height="4.6" fill="#92d2cc"/><rect x="47.25" y="395.3" width="1.3" height="5.0" fill="#92d2cc"/><rect x="49.35" y="396.5" width="1.3" height="3.8" fill="#92d2cc"/><rect x="51.45" y="396.0" width="1.3" height="4.3" fill="#f7a9a7"/><rect x="53.65" y="397.0" width="1.3" height="3.3" fill="#f7a9a7"/><rect x="55.75" y="394.4" width="1.3" height="5.9" fill="#92d2cc"/><rect x="57.85" y="395.4" width="1.3" height="4.9" fill="#f7a9a7"/><rect x="59.95" y="396.2" width="1.3" height="4.1" fill="#f7a9a7"/><rect x="62.05" y="395.5" width="1.3" height="4.8" fill="#92d2cc"/><rect x="64.15" y="395.6" width="1.3" height="4.7" fill="#f7a9a7"/><rect x="66.25" y="395.7" width="1.3" height="4.6" fill="#f7a9a7"/><rect x="68.35" y="395.7" width="1.3" height="4.6" fill="#f7a9a7"/><rect x="70.45" y="391.3" width="1.3" height="9.0" fill="#92d2cc"/><rect x="72.55" y="396.6" width="1.3" height="3.7" fill="#f7a9a7"/><rect x="74.65" y="396.3" width="1.3" height="4.0" fill="#f7a9a7"/><rect x="76.75" y="395.9" width="1.3" height="4.4" fill="#f7a9a7"/><rect x="78.85" y="396.1" width="1.3" height="4.2" fill="#f7a9a7"/><rect x="80.95" y="395.5" width="1.3" height="4.8" fill="#f7a9a7"/><rect x="83.15" y="395.6" width="1.3" height="4.7" fill="#92d2cc"/><rect x="85.25" y="395.3" width="1.3" height="5.0" fill="#92d2cc"/><rect x="87.35" y="388.8" width="1.3" height="11.5" fill="#f7a9a7"/><rect x="89.45" y="393.9" width="1.3" height="6.4" fill="#92d2cc"/><rect x="91.55" y="394.8" width="1.3" height="5.5" fill="#92d2cc"/><rect x="93.65" y="394.9" width="1.3" height="5.4" fill="#f7a9a7"/><rect x="95.75" y="394.9" width="1.3" height="5.4" fill="#f7a9a7"/><rect x="97.85" y="395.6" width="1.3" height="4.7" fill="#92d2cc"/><rect x="99.95" y="394.6" width="1.3" height="5.7" fill="#f7a9a7"/><rect x="102.05" y="394.4" width="1.3" height="5.9" fill="#92d2cc"/><rect x="104.15" y="396.4" width="1.3" height="3.9" fill="#f7a9a7"/><rect x="106.25" y="391.3" width="1.3" height="9.0" fill="#92d2cc"/><rect x="108.35" y="396.1" width="1.3" height="4.2" fill="#f7a9a7"/><rect x="110.55" y="395.6" width="1.3" height="4.7" fill="#92d2cc"/><rect x="112.65" y="393.7" width="1.3" height="6.6" fill="#92d2cc"/><rect x="114.75" y="395.8" width="1.3" height="4.5" fill="#92d2cc"/><rect x="116.85" y="396.2" width="1.3" height="4.1" fill="#f7a9a7"/><rect x="118.95" y="389.8" width="1.3" height="10.5" fill="#92d2cc"/><rect x="121.05" y="390.0" width="1.3" height="10.3" fill="#92d2cc"/><rect x="123.15" y="393.3" width="1.3" height="7.0" fill="#f7a9a7"/><rect x="125.25" y="395.2" width="1.3" height="5.1" fill="#f7a9a7"/><rect x="127.35" y="394.6" width="1.3" height="5.7" fill="#f7a9a7"/><rect x="129.45" y="395.4" width="1.3" height="4.9" fill="#92d2cc"/><rect x="131.55" y="387.8" width="1.3" height="12.5" fill="#f7a9a7"/><rect x="133.65" y="393.9" width="1.3" height="6.4" fill="#92d2cc"/><rect x="135.75" y="395.9" width="1.3" height="4.4" fill="#f7a9a7"/><rect x="137.85" y="395.5" width="1.3" height="4.8" fill="#f7a9a7"/><rect x="140.05" y="395.1" width="1.3" height="5.2" fill="#92d2cc"/><rect x="142.15" y="393.7" width="1.3" height="6.6" fill="#f7a9a7"/><rect x="144.25" y="395.4" width="1.3" height="4.9" fill="#92d2cc"/><rect x="146.35" y="395.3" width="1.3" height="5.0" fill="#92d2cc"/><rect x="148.45" y="395.5" width="1.3" height="4.8" fill="#f7a9a7"/><rect x="150.55" y="395.2" width="1.3" height="5.1" fill="#f7a9a7"/><rect x="152.65" y="390.3" width="1.3" height="10.0" fill="#f7a9a7"/><rect x="154.75" y="390.7" width="1.3" height="9.6" fill="#f7a9a7"/><rect x="156.85" y="394.4" width="1.3" height="5.9" fill="#92d2cc"/><rect x="158.95" y="395.4" width="1.3" height="4.9" fill="#92d2cc"/><rect x="161.15" y="395.4" width="1.3" height="4.9" fill="#92d2cc"/><rect x="163.25" y="394.2" width="1.3" height="6.1" fill="#92d2cc"/><rect x="165.35" y="396.5" width="1.3" height="3.8" fill="#f7a9a7"/><rect x="167.45" y="395.7" width="1.3" height="4.6" fill="#f7a9a7"/><rect x="169.55" y="396.3" width="1.3" height="4.0" fill="#f7a9a7"/><rect x="171.65" y="396.1" width="1.3" height="4.2" fill="#f7a9a7"/><rect x="173.75" y="396.7" width="1.3" height="3.6" fill="#f7a9a7"/><rect x="175.85" y="395.0" width="1.3" height="5.3" fill="#92d2cc"/><rect x="177.95" y="396.3" width="1.3" height="4.0" fill="#f7a9a7"/><rect x="180.05" y="396.0" width="1.3" height="4.3" fill="#92d2cc"/><rect x="182.15" y="394.0" width="1.3" height="6.3" fill="#92d2cc"/><rect x="184.25" y="389.3" width="1.3" height="11.0" fill="#f7a9a7"/><rect x="186.35" y="396.7" width="1.3" height="3.6" fill="#f7a9a7"/><rect x="188.45" y="396.1" width="1.3" height="4.2" fill="#f7a9a7"/><rect x="190.55" y="395.7" width="1.3" height="4.6" fill="#f7a9a7"/><rect x="192.65" y="393.1" width="1.3" height="7.2" fill="#f7a9a7"/><rect x="194.75" y="391.3" width="1.3" height="9.0" fill="#92d2cc"/><rect x="196.85" y="394.2" width="1.3" height="6.1" fill="#92d2cc"/><rect x="198.95" y="396.5" width="1.3" height="3.8" fill="#92d2cc"/><rect x="201.05" y="394.4" width="1.3" height="5.9" fill="#f7a9a7"/><rect x="203.15" y="395.6" width="1.3" height="4.7" fill="#92d2cc"/><rect x="205.25" y="393.1" width="1.3" height="7.2" fill="#92d2cc"/><rect x="207.35" y="391.3" width="1.3" height="9.0" fill="#92d2cc"/><rect x="209.45" y="394.4" width="1.3" height="5.9" fill="#f7a9a7"/><rect x="211.55" y="396.0" width="1.3" height="4.3" fill="#f7a9a7"/><rect x="213.65" y="395.8" width="1.3" height="4.5" fill="#f7a9a7"/><rect x="215.75" y="396.2" width="1.3" height="4.1" fill="#f7a9a7"/><rect x="217.85" y="394.9" width="1.3" height="5.4" fill="#92d2cc"/><rect x="219.95" y="388.6" width="1.3" height="11.7" fill="#f7a9a7"/><rect x="222.05" y="395.6" width="1.3" height="4.7" fill="#92d2cc"/><rect x="224.15" y="396.1" width="1.3" height="4.2" fill="#f7a9a7"/><rect x="226.25" y="395.6" width="1.3" height="4.7" fill="#92d2cc"/><rect x="228.35" y="396.1" width="1.3" height="4.2" fill="#92d2cc"/><rect x="230.45" y="395.9" width="1.3" height="4.4" fill="#f7a9a7"/><rect x="232.55" y="392.8" width="1.3" height="7.5" fill="#f7a9a7"/><rect x="234.65" y="394.9" width="1.3" height="5.4" fill="#f7a9a7"/><rect x="236.75" y="395.7" width="1.3" height="4.6" fill="#f7a9a7"/><rect x="238.85" y="394.6" width="1.3" height="5.7" fill="#92d2cc"/><rect x="240.95" y="395.7" width="1.3" height="4.6" fill="#f7a9a7"/><rect x="243.05" y="396.2" width="1.3" height="4.1" fill="#92d2cc"/><rect x="245.15" y="394.3" width="1.3" height="6.0" fill="#f7a9a7"/><rect x="247.25" y="394.5" width="1.3" height="5.8" fill="#f7a9a7"/><rect x="249.35" y="395.2" width="1.3" height="5.1" fill="#f7a9a7"/><rect x="251.45" y="395.0" width="1.3" height="5.3" fill="#f7a9a7"/><rect x="253.55" y="396.2" width="1.3" height="4.1" fill="#f7a9a7"/><rect x="255.65" y="396.4" width="1.3" height="3.9" fill="#f7a9a7"/><rect x="257.75" y="396.1" width="1.3" height="4.2" fill="#92d2cc"/><rect x="259.85" y="395.5" width="1.3" height="4.8" fill="#92d2cc"/><rect x="261.95" y="392.8" width="1.3" height="7.5" fill="#f7a9a7"/><rect x="264.05" y="396.1" width="1.3" height="4.2" fill="#92d2cc"/><rect x="266.15" y="395.4" width="1.3" height="4.9" fill="#f7a9a7"/><rect x="268.25" y="396.4" width="1.3" height="3.9" fill="#f7a9a7"/><rect x="270.35" y="392.8" width="1.3" height="7.5" fill="#92d2cc"/><rect x="272.45" y="395.4" width="1.3" height="4.9" fill="#92d2cc"/><rect x="274.55" y="395.5" width="1.3" height="4.8" fill="#f7a9a7"/><rect x="276.65" y="396.0" width="1.3" height="4.3" fill="#92d2cc"/><rect x="278.75" y="396.8" width="1.3" height="3.5" fill="#f7a9a7"/><rect x="280.85" y="395.7" width="1.3" height="4.6" fill="#92d2cc"/><rect x="282.95" y="396.1" width="1.3" height="4.2" fill="#f7a9a7"/><rect x="285.95" y="392.3" width="1.3" height="8.0" fill="#f7a9a7"/><rect x="288.05" y="395.6" width="1.3" height="4.7" fill="#92d2cc"/><rect x="290.15" y="396.0" width="1.3" height="4.3" fill="#f7a9a7"/><rect x="292.25" y="396.0" width="1.3" height="4.3" fill="#92d2cc"/><rect x="294.35" y="396.3" width="1.3" height="4.0" fill="#92d2cc"/><rect x="296.45" y="395.4" width="1.3" height="4.9" fill="#f7a9a7"/><rect x="298.55" y="396.8" width="1.3" height="3.5" fill="#f7a9a7"/><rect x="300.65" y="395.4" width="1.3" height="4.9" fill="#92d2cc"/><rect x="302.75" y="395.1" width="1.3" height="5.2" fill="#92d2cc"/><rect x="304.85" y="392.3" width="1.3" height="8.0" fill="#92d2cc"/><rect x="306.95" y="396.1" width="1.3" height="4.2" fill="#92d2cc"/><rect x="309.05" y="395.8" width="1.3" height="4.5" fill="#f7a9a7"/><rect x="311.15" y="396.8" width="1.3" height="3.5" fill="#92d2cc"/><rect x="313.25" y="396.0" width="1.3" height="4.3" fill="#92d2cc"/><rect x="315.35" y="392.3" width="1.3" height="8.0" fill="#92d2cc"/><rect x="317.45" y="394.6" width="1.3" height="5.7" fill="#f7a9a7"/><rect x="319.55" y="395.9" width="1.3" height="4.4" fill="#92d2cc"/><rect x="321.65" y="391.8" width="1.3" height="8.5" fill="#92d2cc"/><rect x="323.75" y="394.7" width="1.3" height="5.6" fill="#f7a9a7"/><rect x="325.85" y="395.4" width="1.3" height="4.9" fill="#f7a9a7"/><rect x="327.95" y="396.8" width="1.3" height="3.5" fill="#f7a9a7"/><rect x="330.05" y="394.9" width="1.3" height="5.4" fill="#92d2cc"/><rect x="332.15" y="396.9" width="1.3" height="3.4" fill="#92d2cc"/><rect x="334.25" y="395.7" width="1.3" height="4.6" fill="#f7a9a7"/><rect x="336.35" y="390.3" width="1.3" height="10.0" fill="#92d2cc"/><rect x="338.45" y="394.8" width="1.3" height="5.5" fill="#92d2cc"/><rect x="340.55" y="395.6" width="1.3" height="4.7" fill="#f7a9a7"/><rect x="342.65" y="396.6" width="1.3" height="3.7" fill="#f7a9a7"/><rect x="344.75" y="395.9" width="1.3" height="4.4" fill="#f7a9a7"/><rect x="346.85" y="396.0" width="1.3" height="4.3" fill="#f7a9a7"/><rect x="348.95" y="395.1" width="1.3" height="5.2" fill="#92d2cc"/><rect x="351.05" y="395.5" width="1.3" height="4.8" fill="#92d2cc"/><rect x="353.15" y="388.3" width="1.3" height="12.0" fill="#92d2cc"/><rect x="355.25" y="396.2" width="1.3" height="4.1" fill="#f7a9a7"/><rect x="357.35" y="395.7" width="1.3" height="4.6" fill="#92d2cc"/><rect x="359.45" y="393.3" width="1.3" height="7.0" fill="#92d2cc"/><rect x="361.55" y="394.9" width="1.3" height="5.4" fill="#f7a9a7"/><rect x="363.65" y="394.5" width="1.3" height="5.8" fill="#92d2cc"/><rect x="365.75" y="395.0" width="1.3" height="5.3" fill="#92d2cc"/><rect x="367.85" y="393.9" width="1.3" height="6.4" fill="#f7a9a7"/><rect x="369.95" y="395.8" width="1.3" height="4.5" fill="#92d2cc"/><rect x="372.05" y="395.6" width="1.3" height="4.7" fill="#f7a9a7"/><rect x="374.15" y="395.1" width="1.3" height="5.2" fill="#92d2cc"/><rect x="376.25" y="392.3" width="1.3" height="8.0" fill="#92d2cc"/><rect x="378.35" y="396.8" width="1.3" height="3.5" fill="#92d2cc"/><rect x="380.45" y="396.2" width="1.3" height="4.1" fill="#92d2cc"/><rect x="382.55" y="390.8" width="1.3" height="9.5" fill="#f7a9a7"/><rect x="384.65" y="389.8" width="1.3" height="10.5" fill="#f7a9a7"/><rect x="386.75" y="390.3" width="1.3" height="10.0" fill="#f7a9a7"/><rect x="389.15" y="388.3" width="1.3" height="12.0" fill="#92d2cc"/><rect x="391.45" y="376.7" width="1.3" height="23.6" fill="#92d2cc"/><rect x="393.55" y="381.5" width="1.3" height="18.8" fill="#f7a9a7"/><rect x="395.65" y="380.6" width="1.3" height="19.7" fill="#92d2cc"/><rect x="397.75" y="369.8" width="1.3" height="30.5" fill="#f7a9a7"/><rect x="399.85" y="385.5" width="1.3" height="14.8" fill="#92d2cc"/><rect x="401.95" y="391.3" width="1.3" height="9.0" fill="#f7a9a7"/><rect x="404.05" y="390.3" width="1.3" height="10.0" fill="#92d2cc"/><rect x="406.15" y="389.3" width="1.3" height="11.0" fill="#92d2cc"/><rect x="408.25" y="384.5" width="1.3" height="15.8" fill="#92d2cc"/><rect x="410.35" y="382.5" width="1.3" height="17.8" fill="#f7a9a7"/><rect x="412.45" y="387.4" width="1.3" height="12.9" fill="#f7a9a7"/><rect x="414.65" y="387.4" width="1.3" height="12.9" fill="#92d2cc"/><rect x="416.75" y="394.3" width="1.3" height="6.0" fill="#f7a9a7"/><rect x="418.85" y="396.3" width="1.3" height="4.0" fill="#f7a9a7"/><rect x="420.95" y="394.8" width="1.3" height="5.5" fill="#f7a9a7"/><rect x="423.05" y="396.3" width="1.3" height="4.0" fill="#f7a9a7"/><rect x="425.15" y="396.8" width="1.3" height="3.5" fill="#f7a9a7"/><rect x="427.25" y="395.3" width="1.3" height="5.0" fill="#f7a9a7"/><rect x="429.35" y="387.4" width="1.3" height="12.9" fill="#f7a9a7"/><rect x="431.45" y="394.3" width="1.3" height="6.0" fill="#f7a9a7"/><rect x="433.55" y="390.9" width="1.3" height="9.4" fill="#f7a9a7"/><rect x="435.65" y="393.3" width="1.3" height="7.0" fill="#f7a9a7"/><rect x="437.25" y="390.9" width="1.3" height="9.4" fill="#f7a9a7"/><rect x="439.05" y="395.3" width="1.3" height="5.0" fill="#f7a9a7"/><rect x="440.95" y="391.3" width="1.3" height="9.0" fill="#f7a9a7"/><rect x="443.05" y="389.3" width="1.3" height="11.0" fill="#f7a9a7"/><rect x="444.95" y="395.3" width="1.3" height="5.0" fill="#f7a9a7"/><rect x="446.35" y="385.5" width="1.3" height="14.8" fill="#92d2cc"/><rect x="448.55" y="390.9" width="1.3" height="9.4" fill="#92d2cc"/><rect x="450.65" y="394.3" width="1.3" height="6.0" fill="#f7a9a7"/><rect x="452.55" y="395.3" width="1.3" height="5.0" fill="#92d2cc"/><rect x="454.55" y="395.3" width="1.3" height="5.0" fill="#f7a9a7"/><rect x="456.55" y="394.8" width="1.3" height="5.5" fill="#92d2cc"/><rect x="458.55" y="385.5" width="1.3" height="14.8" fill="#92d2cc"/><rect x="460.75" y="389.0" width="1.3" height="11.3" fill="#f7a9a7"/><rect x="462.85" y="391.3" width="1.3" height="9.0" fill="#92d2cc"/><rect x="464.95" y="383.1" width="1.3" height="17.2" fill="#92d2cc"/><rect x="467.05" y="392.3" width="1.3" height="8.0" fill="#f7a9a7"/><rect x="469.15" y="393.3" width="1.3" height="7.0" fill="#f7a9a7"/><rect x="471.25" y="393.3" width="1.3" height="7.0" fill="#92d2cc"/><rect x="473.35" y="387.4" width="1.3" height="12.9" fill="#f7a9a7"/><rect x="475.45" y="392.3" width="1.3" height="8.0" fill="#f7a9a7"/><rect x="477.55" y="394.3" width="1.3" height="6.0" fill="#92d2cc"/><rect x="479.65" y="395.3" width="1.3" height="5.0" fill="#f7a9a7"/><rect x="481.75" y="394.3" width="1.3" height="6.0" fill="#f7a9a7"/><rect x="483.95" y="391.3" width="1.3" height="9.0" fill="#92d2cc"/><rect x="486.05" y="394.3" width="1.3" height="6.0" fill="#f7a9a7"/><rect x="488.15" y="394.8" width="1.3" height="5.5" fill="#92d2cc"/><rect x="490.25" y="394.3" width="1.3" height="6.0" fill="#92d2cc"/><rect x="492.35" y="395.3" width="1.3" height="5.0" fill="#92d2cc"/><rect x="494.45" y="395.3" width="1.3" height="5.0" fill="#92d2cc"/><rect x="496.55" y="391.9" width="1.3" height="8.4" fill="#f7a9a7"/><rect x="498.65" y="394.3" width="1.3" height="6.0" fill="#f7a9a7"/><rect x="500.75" y="393.9" width="1.3" height="6.4" fill="#f7a9a7"/><rect x="502.85" y="397.3" width="1.3" height="3.0" fill="#92d2cc"/><rect x="504.95" y="396.3" width="1.3" height="4.0" fill="#f7a9a7"/><rect x="507.05" y="395.3" width="1.3" height="5.0" fill="#92d2cc"/><rect x="509.15" y="396.8" width="1.3" height="3.5" fill="#f7a9a7"/><rect x="511.25" y="396.3" width="1.3" height="4.0" fill="#92d2cc"/><rect x="513.35" y="396.8" width="1.3" height="3.5" fill="#f7a9a7"/><rect x="515.45" y="396.3" width="1.3" height="4.0" fill="#f7a9a7"/><rect x="517.55" y="396.3" width="1.3" height="4.0" fill="#f7a9a7"/><rect x="519.65" y="397.3" width="1.3" height="3.0" fill="#f7a9a7"/><rect x="521.75" y="394.3" width="1.3" height="6.0" fill="#92d2cc"/><rect x="523.95" y="395.3" width="1.3" height="5.0" fill="#f7a9a7"/><rect x="526.05" y="395.6" width="1.3" height="4.7" fill="#f7a9a7"/><rect x="528.15" y="393.7" width="1.3" height="6.6" fill="#92d2cc"/><rect x="530.25" y="396.3" width="1.3" height="4.0" fill="#92d2cc"/><rect x="532.35" y="396.3" width="1.3" height="4.0" fill="#92d2cc"/><rect x="534.45" y="396.1" width="1.3" height="4.2" fill="#92d2cc"/><rect x="536.55" y="396.3" width="1.3" height="4.0" fill="#92d2cc"/><rect x="538.65" y="392.3" width="1.3" height="8.0" fill="#92d2cc"/><rect x="540.75" y="396.3" width="1.3" height="4.0" fill="#f7a9a7"/><rect x="542.85" y="395.3" width="1.3" height="5.0" fill="#92d2cc"/><rect x="544.95" y="396.3" width="1.3" height="4.0" fill="#f7a9a7"/><rect x="547.05" y="392.9" width="1.3" height="7.4" fill="#f7a9a7"/><rect x="549.15" y="395.3" width="1.3" height="5.0" fill="#92d2cc"/><rect x="551.25" y="395.1" width="1.3" height="5.2" fill="#92d2cc"/><rect x="553.35" y="396.3" width="1.3" height="4.0" fill="#f7a9a7"/><rect x="555.45" y="397.6" width="1.3" height="2.7" fill="#f7a9a7"/>
<polyline points="0.0,391.8 10.0,392.5 20.0,393.8 30.0,394.8 40.0,395.3 60.0,395.6 80.0,395.9 100.0,396.1 125.0,395.6 150.0,395.4 175.0,395.7 200.0,395.3 220.0,394.9 250.0,395.8 275.0,396.0 300.0,396.1 325.0,395.8 350.0,395.7 375.0,395.5 385.0,394.9 390.0,393.5 395.0,391.0 403.0,390.4 410.0,388.5 415.0,386.5 420.0,386.6 425.0,387.1 432.0,387.9 440.0,390.4 447.0,391.0 455.0,392.4 462.0,391.4 468.0,390.4 476.0,391.0 485.0,391.4 495.0,392.4 505.0,393.3 515.0,394.3 525.0,395.3 540.0,395.5 556.5,395.5" fill="none" stroke="#5b9cf6" stroke-opacity="0.85" stroke-width="0.8" stroke-linejoin="round"/>
</g>
<g id="seps"><path d="M0 366.5H1024" stroke="#8c8c8c" stroke-width="1.1"/><path d="M0 400.8H1024" stroke="#8c8c8c" stroke-width="1.4"/></g>
<g id="rsi"><polyline points="0.0,427.7 5.0,429.0 12.0,430.0 17.5,430.0 19.0,429.1 20.5,425.5 22.3,422.2 24.6,422.6 26.9,424.5 28.0,423.8 30.1,425.0 31.1,426.8 34.0,429.0 40.0,431.0 48.0,431.5 56.0,431.0 64.0,432.0 72.0,432.5 80.0,433.2 84.0,435.0 86.1,436.8 87.3,437.3 90.3,430.0 93.4,432.4 95.9,433.6 99.0,429.5 102.0,428.8 105.6,430.5 109.3,431.2 113.0,425.1 116.6,423.9 121.0,419.0 124.0,422.6 126.4,425.1 129.6,423.1 132.5,425.1 136.2,426.3 139.8,423.9 142.3,426.3 144.7,427.0 149.6,424.6 153.2,430.5 155.2,432.4 158.1,428.0 161.8,423.9 165.0,422.6 169.1,425.6 172.8,428.8 176.4,427.5 178.9,429.5 182.5,422.2 186.2,423.1 189.9,423.9 193.5,428.8 197.2,425.6 200.8,427.0 204.5,422.6 207.4,415.3 210.6,419.0 214.3,421.4 219.2,418.3 222.8,419.0 226.5,417.8 230.1,419.0 233.8,423.9 236.3,425.6 239.9,421.4 243.1,420.7 246.0,423.1 249.7,425.6 254.6,427.5 259.4,425.6 263.1,431.2 268.0,430.0 270.9,423.9 272.9,421.4 275.3,425.1 279.0,426.3 282.6,427.5 286.3,428.8 290.0,427.5 294.8,428.0 300.9,428.8 304.6,425.6 309.5,424.6 313.2,419.0 315.6,415.8 318.0,419.7 320.0,418.3 323.7,420.8 327.3,422.0 332.2,419.5 337.1,414.6 340.8,415.9 344.4,418.3 348.1,419.0 353.0,412.7 356.6,414.2 361.0,415.1 365.2,411.7 368.8,412.2 372.0,415.1 376.2,411.0 381.0,410.3 383.0,411.0 385.4,417.6 388.4,409.8 391.3,405.4 393.2,413.4 395.7,412.7 398.1,416.6 401.3,414.6 403.0,418.3 406.7,413.4 409.1,412.2 412.8,417.6 415.7,415.9 418.9,417.1 422.5,419.0 426.2,420.8 429.9,423.9 433.5,425.6 437.2,429.8 440.8,433.0 444.0,434.7 447.0,430.5 450.6,429.3 454.3,429.8 457.2,424.4 459.6,420.8 462.1,424.4 465.3,420.0 468.9,422.5 472.6,420.0 476.2,421.5 479.9,420.8 483.1,424.4 486.0,423.9 488.9,425.6 492.1,424.4 495.8,427.3 499.4,429.8 503.1,430.5 508.0,429.3 512.9,428.8 517.8,430.5 522.1,429.3 526.3,433.0 528.7,433.0 532.4,428.1 536.1,427.3 539.7,428.1 543.4,423.9 545.8,424.4 548.3,427.3 551.9,426.4 555.6,428.1" fill="none" stroke="#8d6bd2" stroke-width="0.75" stroke-linejoin="round"/></g>
<g id="bolt"><circle cx="556.2" cy="358.7" r="5.35" fill="#fff" stroke="#b14fc5" stroke-width="1.2"/><path d="M557.2 355.3l-2.6 3.7h1.7l-0.9 3.1l2.8-4h-1.8z" fill="#a23fba"/></g>
<g id="price-axis">
<text class="ax" x="994.3" y="364.8" textLength="15.9" lengthAdjust="spacingAndGlyphs">60.00</text><text class="ax" x="994.3" y="348.5" textLength="15.9" lengthAdjust="spacingAndGlyphs">61.00</text><text class="ax" x="994.3" y="332.2" textLength="15.9" lengthAdjust="spacingAndGlyphs">62.00</text><text class="ax" x="994.3" y="315.9" textLength="15.9" lengthAdjust="spacingAndGlyphs">63.00</text><text class="ax" x="994.3" y="299.6" textLength="15.9" lengthAdjust="spacingAndGlyphs">64.00</text><text class="ax" x="994.3" y="283.2" textLength="15.9" lengthAdjust="spacingAndGlyphs">65.00</text><text class="ax" x="994.3" y="266.9" textLength="15.9" lengthAdjust="spacingAndGlyphs">66.00</text><text class="ax" x="994.3" y="250.6" textLength="15.9" lengthAdjust="spacingAndGlyphs">67.00</text><text class="ax" x="994.3" y="234.3" textLength="15.9" lengthAdjust="spacingAndGlyphs">68.00</text><text class="ax" x="994.3" y="218.0" textLength="15.9" lengthAdjust="spacingAndGlyphs">69.00</text><text class="ax" x="994.3" y="201.7" textLength="15.9" lengthAdjust="spacingAndGlyphs">70.00</text><text class="ax" x="994.3" y="185.4" textLength="15.9" lengthAdjust="spacingAndGlyphs">71.00</text><text class="ax" x="994.3" y="169.0" textLength="15.9" lengthAdjust="spacingAndGlyphs">72.00</text><text class="ax" x="994.3" y="152.7" textLength="15.9" lengthAdjust="spacingAndGlyphs">73.00</text><text class="ax" x="994.3" y="136.4" textLength="15.9" lengthAdjust="spacingAndGlyphs">74.00</text><text class="ax" x="994.3" y="120.1" textLength="15.9" lengthAdjust="spacingAndGlyphs">75.00</text><text class="ax" x="994.3" y="103.8" textLength="15.9" lengthAdjust="spacingAndGlyphs">76.00</text><text class="ax" x="994.3" y="87.5" textLength="15.9" lengthAdjust="spacingAndGlyphs">77.00</text><text class="ax" x="994.3" y="71.2" textLength="15.9" lengthAdjust="spacingAndGlyphs">78.00</text><text class="ax" x="994.3" y="54.8" textLength="15.9" lengthAdjust="spacingAndGlyphs">79.00</text><text class="ax" x="994.3" y="38.5" textLength="15.9" lengthAdjust="spacingAndGlyphs">80.00</text><text class="ax" x="994.3" y="22.2" textLength="15.9" lengthAdjust="spacingAndGlyphs">81.00</text><text class="ax" x="994.3" y="5.9" textLength="15.9" lengthAdjust="spacingAndGlyphs">82.00</text>
<text class="ax" x="994" y="382.6">40K</text><text class="ax" x="994.3" y="410.4" textLength="15.9" lengthAdjust="spacingAndGlyphs">80.00</text>
<rect x="990.5" y="156.5" width="22.0" height="8.199999999999989" fill="#262626"/><text class="lb" x="994.6" y="163.0" textLength="15.6" lengthAdjust="spacingAndGlyphs">72.37</text>
<rect x="990.5" y="186.2" width="22.0" height="8.300000000000011" fill="#262626"/><text class="lb" x="994.6" y="192.8" textLength="15.6" lengthAdjust="spacingAndGlyphs">70.56</text>
<rect x="990.5" y="219.6" width="22.0" height="8.0" fill="#262626"/><text class="lb" x="994.6" y="226.0" textLength="15.6" lengthAdjust="spacingAndGlyphs">68.52</text>
<rect x="990.5" y="237.8" width="22.0" height="8.0" fill="#262626"/><text class="lb" x="994.6" y="244.2" textLength="15.6" lengthAdjust="spacingAndGlyphs">67.40</text>
<rect x="990.5" y="201.2" width="31.2" height="15.8" fill="#F23645"/><text class="lb" x="994" y="207.9">69.66</text><text class="lb" x="994" y="215.2" fill-opacity="0.85">02:18:49</text>
<rect x="990.3" y="382.6" width="24.100000000000023" height="9.0" fill="#2962ff"/><text class="lb" x="994.6" y="389.5" textLength="17.4" lengthAdjust="spacingAndGlyphs">8.54K</text>
<rect x="990.3" y="391.6" width="24.100000000000023" height="8.599999999999966" fill="#ef5350"/><text class="lb" x="994.6" y="398.3" textLength="17.4" lengthAdjust="spacingAndGlyphs">3.67K</text>
<rect x="990.3" y="423.9" width="22.40000000000009" height="8.700000000000045" fill="#7e57c2"/><text class="lb" x="994.6" y="430.6" textLength="15.6" lengthAdjust="spacingAndGlyphs">43.55</text>
<rect x="972.3" y="156.5" width="14.8" height="8" fill="#fff"/><rect x="972.3" y="186.3" width="14.8" height="8" fill="#fff"/><rect x="972.3" y="237.8" width="15.6" height="8" fill="#fff"/><text class="it" x="974.6" y="162.9">TP2</text><text class="it" x="974.6" y="192.7">TP1</text><text class="ax" x="974.6" y="244.1" style="font-size:6.7px;fill:#3a3a3a;font-style:italic" textLength="10.8" lengthAdjust="spacingAndGlyphs">SBR</text>
</g>
<g id="time-axis">
<text class="tm" x="-2.7" y="451.5">16</text><text class="tm" x="34.5" y="451.5">19</text><text class="tm" x="72.5" y="451.5">22</text><text class="tm" x="110.6" y="451.5">25</text><text class="tb" x="161.3" y="451.5">Mar</text><text class="tm" x="199.3" y="451.5">4</text><text class="tm" x="237.3" y="451.5">7</text><text class="tm" x="275.4" y="451.5">10</text><text class="tm" x="313.4" y="451.5">13</text><text class="tm" x="351.5" y="451.5">16</text><text class="tm" x="389.5" y="451.5">19</text><text class="tm" x="427.5" y="451.5">22</text><text class="tm" x="465.6" y="451.5">25</text><text class="tm" x="503.6" y="451.5">28</text><text class="tb" x="554.3" y="451.5">Apr</text><text class="tm" x="592.3" y="451.5">4</text><text class="tm" x="630.4" y="451.5">7</text><text class="tm" x="668.4" y="451.5">10</text><text class="tm" x="706.4" y="451.5">13</text><text class="tm" x="744.5" y="451.5">16</text><text class="tm" x="782.5" y="451.5">19</text><text class="tm" x="820.5" y="451.5">22</text><text class="tm" x="858.6" y="451.5">25</text><text class="tm" x="896.6" y="451.5">28</text><text class="tb" x="934.6" y="451.5">May</text><text class="tm" x="972.7" y="451.5">4</text>
</g>
<g id="gear"><polygon points="1011.30,449.40 1009.50,452.52 1005.90,452.52 1004.10,449.40 1005.90,446.28 1009.50,446.28" fill="none" stroke="#444" stroke-width="0.7"/><circle cx="1007.7" cy="449.4" r="1.3" fill="none" stroke="#444" stroke-width="0.7"/></g>
<g id="tvlogo" transform="translate(2.6,423.9) scale(0.45)"><path d="M14 22H7V11H0V4h14v18zM28 22h-8l7.5-18h8L28 22z" fill="#131722"/><circle cx="20" cy="8" r="4" fill="#131722"/></g>
<text x="22.4" y="434.3" font-size="10.1" font-weight="bold" fill="#1a1a1a" textLength="63.3" lengthAdjust="spacingAndGlyphs">TradingView</text>
</svg>
</body></html>
